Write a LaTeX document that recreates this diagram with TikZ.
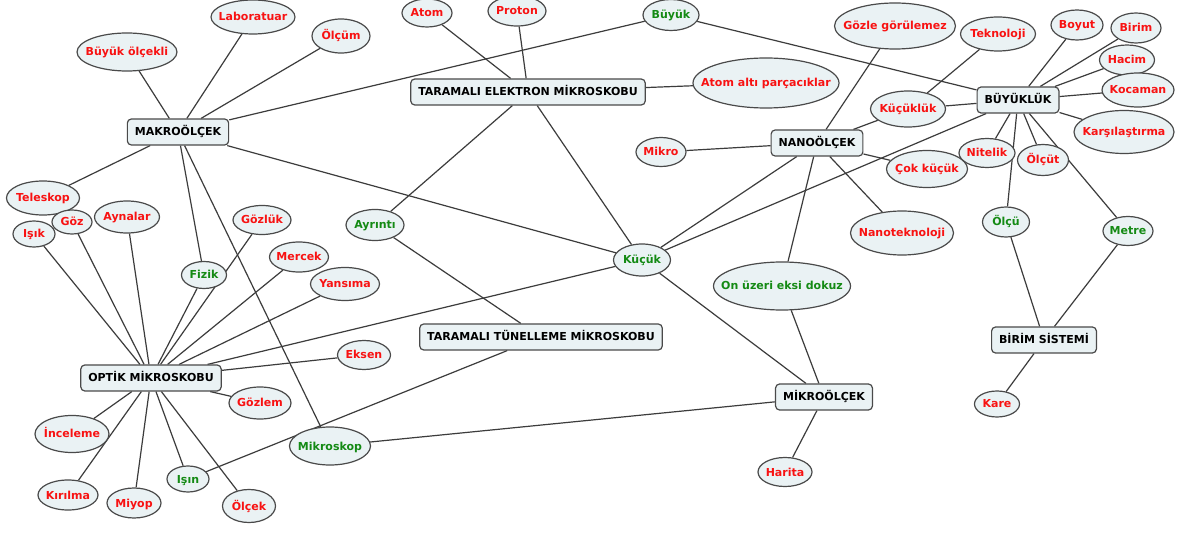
\documentclass[tikz,border=0pt]{standalone}
\usepackage{fontspec}
\setmainfont{DejaVu Sans}
\usepackage{tikz}
\usetikzlibrary{shapes.geometric,backgrounds}

\definecolor{MapFill}{HTML}{EAF2F4}
\definecolor{MapEdge}{HTML}{4A4A4A}
\definecolor{MapLine}{HTML}{3C3C3C}
\definecolor{MapRed}{HTML}{F81212}
\definecolor{MapGreen}{HTML}{148A14}

\newcommand{\mapfont}{\fontsize{11}{12}\selectfont\bfseries}

\tikzset{
    % Rounded boxes for the main concepts
    concept/.style={
        rectangle,
        rounded corners=4pt,
        draw=MapEdge,
        line width=1.2pt,
        fill=MapFill,
        text=black,
        minimum height=26pt,
        inner xsep=7.5pt,
        text height=9pt,
        text depth=1pt,
        font=\mapfont
    },
    % Ellipses, sized by hand: width and height
    term/.style 2 args={
        ellipse,
        draw=MapEdge,
        line width=1.2pt,
        fill=MapFill,
        text=MapRed,
        minimum width=#1,
        minimum height=#2,
        inner sep=0pt,
        text height=9pt,
        text depth=1pt,
        font=\mapfont,
        execute at begin node={\hbox to 0pt\bgroup\hss},
        execute at end node={\hss\egroup}
    },
    term green/.style 2 args={
        term={#1}{#2},
        text=MapGreen
    },
    link/.style={
        draw=MapLine,
        line width=1.2pt
    }
}

\begin{document}
\begin{tikzpicture}[x=1pt, y=-1pt]
        \useasboundingbox (0,0) rectangle (1187,537);

        % Makro side
        \node[concept] (makro) at (178,132) {MAKROÖLÇEK};
        \node[term={100}{38}] (buyukolcekli) at (127,52) {Büyük ölçekli};
        \node[term={84}{34}] (lab) at (253,17) {Laboratuar};
        \node[term={58}{34}] (olcum) at (341,36) {Ölçüm};
        \node[term={73}{34}] (teleskop) at (43,198) {Teleskop};

        % Electron microscope
        \node[concept] (tem) at (528,92) {TARAMALI ELEKTRON MİKROSKOBU};
        \node[term={50}{28}] (atom) at (427,13) {Atom};
        \node[term={58}{30}] (proton) at (517,11) {Proton};
        \node[term green={56}{31}] (buyuk) at (671,15) {Büyük};
        \node[term={146}{50}] (atomalti) at (766,83) {Atom altı parçacıklar};

        % Nano side
        \node[concept] (nano) at (817,143) {NANOÖLÇEK};
        \node[term={50}{29}] (mikro) at (661,152) {Mikro};
        \node[term={121}{46}] (gozle) at (895,26) {Gözle görülemez};
        \node[term={75}{34}] (teknoloji) at (998,34) {Teknoloji};
        \node[term={75}{36}] (kucukluk) at (908,109) {Küçüklük};
        \node[term={81}{37}] (cokkucuk) at (927,169) {Çok küçük};
        \node[term={103}{44}] (nanotek) at (902,233) {Nanoteknoloji};
        \node[term green={137}{48}] (onuzeri) at (782,286) {On üzeri eksi dokuz};
        \node[term green={57}{32}] (kucuk) at (642,260) {Küçük};

        % Size and units
        \node[concept] (buyukluk) at (1018,100) {BÜYÜKLÜK};
        \node[term={52}{30}] (boyut) at (1077,25) {Boyut};
        \node[term={50}{30}] (birim) at (1136,28) {Birim};
        \node[term={55}{30}] (hacim) at (1127,60) {Hacim};
        \node[term={72}{34}] (kocaman) at (1138,90) {Kocaman};
        \node[term={100}{43}] (karsilastirma) at (1124,132) {Karşılaştırma};
        \node[term={56}{29}] (nitelik) at (987,153) {Nitelik};
        \node[term={51}{31}] (olcut) at (1043,160) {Ölçüt};
        \node[term green={47}{30}] (olcu) at (1006,222) {Ölçü};
        \node[term green={50}{29}] (metre) at (1128,231) {Metre};
        \node[concept] (birimsistemi) at (1044,340) {BİRİM SİSTEMİ};
        \node[term={45}{26}] (kare) at (997,404) {Kare};

        % Optical microscope
        \node[concept] (optik) at (151,378) {OPTİK MİKROSKOBU};
        \node[term={40}{24}] (goz) at (72,222) {Göz};
        \node[term={42}{26}] (isik) at (34,234) {Işık};
        \node[term={65}{32}] (aynalar) at (127,217) {Aynalar};
        \node[term={58}{29}] (gozluk) at (262,220) {Gözlük};
        \node[term green={45}{27}] (fizik) at (204,275) {Fizik};
        \node[term={59}{30}] (mercek) at (299,257) {Mercek};
        \node[term={69}{33}] (yansima) at (345,284) {Yansıma};
        \node[term={53}{29}] (eksen) at (364,355) {Eksen};
        \node[term={62}{32}] (gozlem) at (260,403) {Gözlem};
        \node[term={74}{37}] (inceleme) at (72,434) {İnceleme};
        \node[term={60}{30}] (kirilma) at (68,495) {Kırılma};
        \node[term={54}{30}] (miyop) at (134,503) {Miyop};
        \node[term green={42}{26}] (isin) at (188,479) {Işın};
        \node[term={53}{33}] (olcek) at (249,506) {Ölçek};
        \node[term green={81}{38}] (mikroskop) at (330,446) {Mikroskop};

        % Tunnelling microscope and mikro side
        \node[term green={58}{31}] (ayrinti) at (375,225) {Ayrıntı};
        \node[concept] (ttm) at (541,337) {TARAMALI TÜNELLEME MİKROSKOBU};
        \node[concept] (mikroolcek) at (824,397) {MİKROÖLÇEK};
        \node[term={54}{29}] (harita) at (785,472) {Harita};

        \begin{scope}[on background layer]
        \fill[white] (0,0) rectangle (1187,537);

        % Links from MAKROÖLÇEK
        \draw[link] (makro) -- (buyukolcekli);
        \draw[link] (makro) -- (lab);
        \draw[link] (makro) -- (olcum);
        \draw[link] (makro) -- (buyuk);
        \draw[link] (makro) -- (kucuk);
        \draw[link] (makro) -- (teleskop);
        \draw[link] (makro) -- (fizik);
        \draw[link] (makro) -- (mikroskop);
        \draw[link] (buyuk) -- (buyukluk);

        % Links from the electron microscope
        \draw[link] (tem) -- (atom);
        \draw[link] (tem) -- (proton);
        \draw[link] (tem) -- (atomalti);
        \draw[link] (tem) -- (ayrinti);
        \draw[link] (tem) -- (kucuk);

        % Links from NANOÖLÇEK
        \draw[link] (nano) -- (mikro);
        \draw[link] (nano) -- (gozle);
        \draw[link] (nano) -- (kucukluk);
        \draw[link] (nano) -- (cokkucuk);
        \draw[link] (nano) -- (nanotek);
        \draw[link] (nano) -- (onuzeri);
        \draw[link] (nano) -- (kucuk);
        \draw[link] (teknoloji) -- (kucukluk);

        % Links from BÜYÜKLÜK
        \draw[link] (buyukluk) -- (kucukluk);
        \draw[link] (buyukluk) -- (boyut);
        \draw[link] (buyukluk) -- (birim);
        \draw[link] (buyukluk) -- (hacim);
        \draw[link] (buyukluk) -- (kocaman);
        \draw[link] (buyukluk) -- (karsilastirma);
        \draw[link] (buyukluk) -- (nitelik);
        \draw[link] (buyukluk) -- (olcut);
        \draw[link] (buyukluk) -- (olcu);
        \draw[link] (buyukluk) -- (metre);
        \draw[link] (buyukluk) -- (kucuk);
        \draw[link] (birimsistemi) -- (olcu);
        \draw[link] (birimsistemi) -- (metre);
        \draw[link] (birimsistemi) -- (kare);

        % Links from OPTİK MİKROSKOBU
        \draw[link] (optik) -- (isik);
        \draw[link] (optik) -- (goz);
        \draw[link] (optik) -- (aynalar);
        \draw[link] (optik) -- (fizik);
        \draw[link] (optik) -- (gozluk);
        \draw[link] (optik) -- (mercek);
        \draw[link] (optik) -- (yansima);
        \draw[link] (optik) -- (kucuk);
        \draw[link] (optik) -- (eksen);
        \draw[link] (optik) -- (gozlem);
        \draw[link] (optik) -- (inceleme);
        \draw[link] (optik) -- (kirilma);
        \draw[link] (optik) -- (miyop);
        \draw[link] (optik) -- (isin);
        \draw[link] (optik) -- (olcek);

        % The rest
        \draw[link] (ayrinti) -- (ttm);
        \draw[link] (ttm) -- (isin);
        \draw[link] (kucuk) -- (mikroolcek);
        \draw[link] (onuzeri) -- (mikroolcek);
        \draw[link] (mikroolcek) -- (mikroskop);
        \draw[link] (mikroolcek) -- (harita);
        \end{scope}
    \end{tikzpicture}
\end{document}
